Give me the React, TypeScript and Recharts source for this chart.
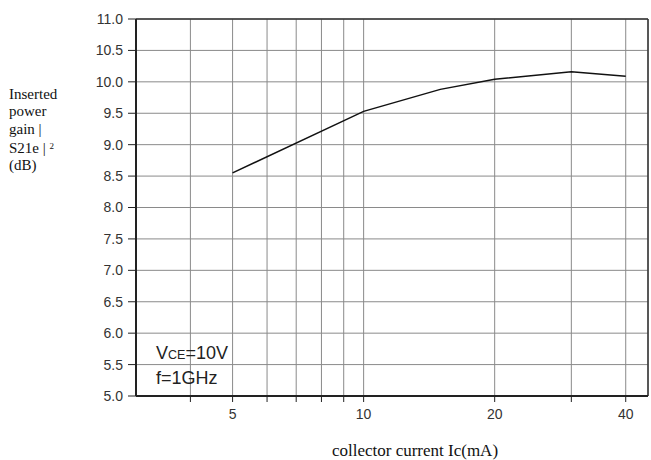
import {
  LineChart,
  Line,
  XAxis,
  YAxis,
  CartesianGrid,
  ReferenceLine,
} from "recharts";

// collector current Ic (mA) vs inserted power gain |S21e|^2 (dB)
const currents = [5, 10, 15, 20, 30, 40];
const gains = [8.55, 9.53, 9.88, 10.04, 10.16, 10.09];

const xTicks = [4, 5, 6, 7, 8, 9, 10, 20, 30, 40];
const xLabels = [5, 10, 20, 40];
const yTicks = [5, 5.5, 6, 6.5, 7, 7.5, 8, 8.5, 9, 9.5, 10, 10.5, 11];

const data = currents.map((ic, i) => ({ ic, gain: gains[i] }));

const sans = "'Liberation Sans', Arial, sans-serif";
const serif = "'Liberation Serif', 'Times New Roman', serif";

export default function App() {
  return (
    <div style={{ position: "absolute", left: 0, top: 0, width: 651, height: 460 }}>
      <LineChart
        width={651}
        height={460}
        data={data}
        margin={{ top: 19, right: 3, left: 76, bottom: 0 }}
      >
        <CartesianGrid stroke="#8a8a8a" strokeWidth={1} />
        <XAxis
          dataKey="ic"
          type="number"
          scale="log"
          domain={[3, 45]}
          allowDataOverflow
          ticks={xTicks}
          interval={0}
          tickFormatter={(v: number) => (xLabels.includes(v) ? String(v) : "")}
          tick={{ fontSize: 14, fill: "#333", fontFamily: sans, dy: 5 }}
          tickSize={6}
          tickLine={{ stroke: "#222" }}
          axisLine={{ stroke: "#222", strokeWidth: 2 }}
          height={64}
          label={{
            value: "collector current Ic(mA)",
            position: "insideBottom",
            offset: 4,
            dx: 23,
            fontSize: 17,
            fill: "#111",
            fontFamily: serif,
          }}
        />
        <YAxis
          type="number"
          domain={[5, 11]}
          ticks={yTicks}
          interval={0}
          tickFormatter={(v: number) => v.toFixed(1)}
          tick={{ fontSize: 14, fill: "#333", fontFamily: sans, dx: -3 }}
          tickSize={8}
          tickLine={{ stroke: "#222" }}
          axisLine={{ stroke: "#222", strokeWidth: 2 }}
          width={60}
        />
        <ReferenceLine y={11} stroke="#333" strokeWidth={1.5} />
        <ReferenceLine x={45} stroke="#333" strokeWidth={1.5} />
        <Line
          dataKey="gain"
          type="linear"
          stroke="#111"
          strokeWidth={1.5}
          dot={false}
          isAnimationActive={false}
        />
      </LineChart>

      <div
        style={{
          position: "absolute",
          left: 9,
          top: 86,
          fontFamily: serif,
          fontSize: 15,
          lineHeight: "17.3px",
          color: "#111",
        }}
      >
        Inserted
        <br />
        power
        <br />
        gain |
        <br />
        S21e | <sup style={{ fontSize: 9, verticalAlign: "4px" }}>2</sup>
        <br />
        (dB)
      </div>

      <div
        style={{
          position: "absolute",
          left: 156,
          top: 342,
          fontFamily: sans,
          fontSize: 18,
          lineHeight: "23px",
          color: "#222",
        }}
      >
        V<span style={{ fontSize: 12.5 }}>CE</span>=10V
        <br />
        f=1GHz
      </div>
    </div>
  );
}
